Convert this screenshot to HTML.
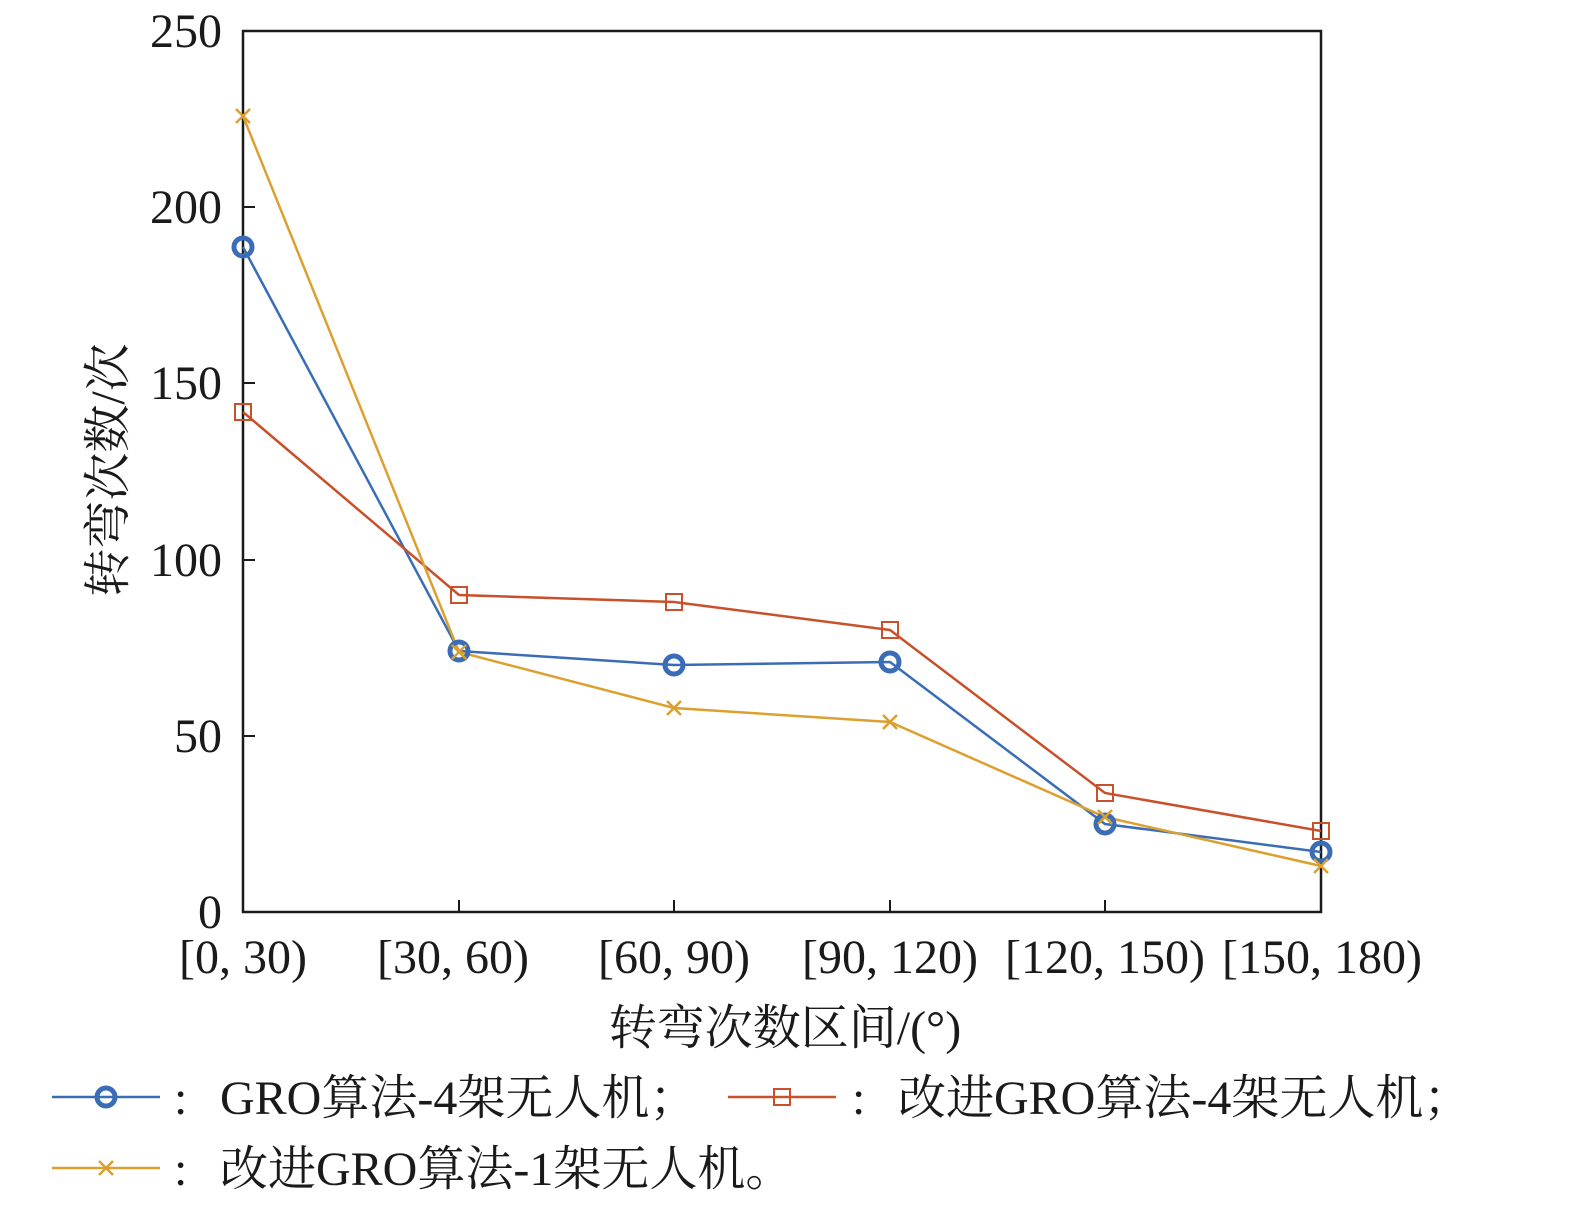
<!DOCTYPE html>
<html><head><meta charset="utf-8"><style>
body{margin:0;background:#fff}
svg text{font-family:"Liberation Serif","Noto Serif CJK SC",serif;fill:#1a1a1a}
</style></head><body>
<svg width="1575" height="1203" viewBox="0 0 1575 1203" xmlns="http://www.w3.org/2000/svg">
<rect x="243" y="31" width="1078" height="881" fill="none" stroke="#1a1a1a" stroke-width="2.5"/>
<g stroke="#1a1a1a" stroke-width="2">
<line x1="243" y1="736" x2="255" y2="736"/><line x1="243" y1="560" x2="255" y2="560"/>
<line x1="243" y1="383" x2="255" y2="383"/><line x1="243" y1="207" x2="255" y2="207"/>
<line x1="459" y1="912" x2="459" y2="900"/><line x1="674" y1="912" x2="674" y2="900"/>
<line x1="890" y1="912" x2="890" y2="900"/><line x1="1105" y1="912" x2="1105" y2="900"/>
</g>
<g font-size="48" text-anchor="end">
<text x="222" y="928">0</text><text x="222" y="752">50</text><text x="222" y="576">100</text>
<text x="222" y="399">150</text><text x="222" y="223">200</text><text x="222" y="47">250</text>
</g>
<g font-size="48" text-anchor="middle">
<text x="243" y="973">[0, 30)</text><text x="453" y="973">[30, 60)</text><text x="674" y="973">[60, 90)</text>
<text x="890" y="973">[90, 120)</text><text x="1105" y="973">[120, 150)</text><text x="1322" y="973">[150, 180)</text>
<text x="785" y="1044">转弯次数区间/(°)</text>
</g>
<text font-size="48" text-anchor="middle" transform="translate(124,470) rotate(-90)">转弯次数/次</text>
<polyline fill="none" stroke="#3a6db5" stroke-width="2.5" points="243,247 459,651 674,665 890,662 1105,824 1321,852"/>
<polyline fill="none" stroke="#c8502a" stroke-width="2.5" points="243,412 459,595 674,602 890,630 1105,793 1321,831"/>
<polyline fill="none" stroke="#dca030" stroke-width="2.5" points="243,116 459,652 674,708 890,722 1105,817 1321,866"/>
<g fill="none" stroke="#3a6db5" stroke-width="5">
<circle cx="243" cy="247" r="9"/><circle cx="459" cy="651" r="9"/><circle cx="674" cy="665" r="9"/>
<circle cx="890" cy="662" r="9"/><circle cx="1105" cy="824" r="9"/><circle cx="1321" cy="852" r="9"/>
</g>
<g fill="none" stroke="#c8502a" stroke-width="2">
<rect x="235" y="404" width="16" height="16"/><rect x="451" y="587" width="16" height="16"/>
<rect x="666" y="594" width="16" height="16"/><rect x="882" y="622" width="16" height="16"/>
<rect x="1097" y="785" width="16" height="16"/><rect x="1313" y="823" width="16" height="16"/>
</g>
<g stroke="#dca030" stroke-width="2.5">
<path d="M236 109l14 14M250 109l-14 14M452 645l14 14M466 645l-14 14M667 701l14 14M681 701l-14 14M883 715l14 14M897 715l-14 14M1098 810l14 14M1112 810l-14 14M1314 859l14 14M1328 859l-14 14"/>
</g>
<line x1="52" y1="1097" x2="160" y2="1097" stroke="#3a6db5" stroke-width="2.5"/>
<circle cx="106" cy="1097" r="9" fill="none" stroke="#3a6db5" stroke-width="5"/>
<line x1="728" y1="1097" x2="836" y2="1097" stroke="#c8502a" stroke-width="2.5"/>
<rect x="774" y="1089" width="16" height="16" fill="none" stroke="#c8502a" stroke-width="2"/>
<line x1="52" y1="1168" x2="160" y2="1168" stroke="#dca030" stroke-width="2.5"/>
<path d="M99 1161l14 14M113 1161l-14 14" stroke="#dca030" stroke-width="2.5"/>
<g font-size="48">
<text x="174" y="1114">:</text><text x="220" y="1114">GRO算法-4架无人机；</text>
<text x="852" y="1114">:</text><text x="898" y="1114">改进GRO算法-4架无人机；</text>
<text x="174" y="1185">:</text><text x="220" y="1185">改进GRO算法-1架无人机。</text>
</g>
</svg>
</body></html>
